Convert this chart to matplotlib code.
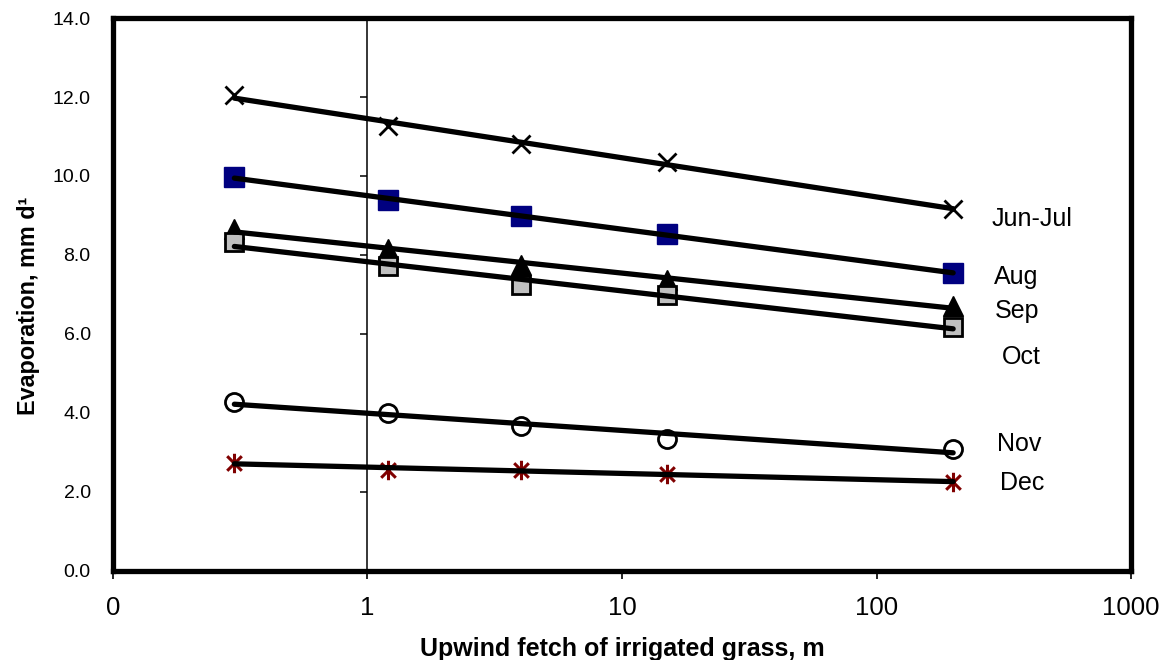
import numpy as np
import matplotlib
matplotlib.use('Agg')
import matplotlib.pyplot as plt
from matplotlib.path import Path
from matplotlib import markers

plt.rcParams['font.family'] = ['Liberation Sans', 'DejaVu Sans']

# upwind fetch (m) and evaporation (mm/d)
fetch = [0.3, 1.2, 4, 15, 200]
jun_jul = [12.05, 11.27, 10.82, 10.35, 9.17]
aug = [9.97, 9.39, 8.99, 8.53, 7.54]
sep = [8.66, 8.15, 7.75, 7.37, 6.71]
oct_ = [8.33, 7.72, 7.24, 6.99, 6.18]
nov = [4.28, 4.00, 3.67, 3.34, 3.09]
dec = [2.73, 2.56, 2.56, 2.46, 2.25]

series_names = ['Jun-Jul', 'Aug', 'Sep', 'Oct', 'Nov', 'Dec']
label_x = [408, 353, 357, 370, 365, 372]
label_y = [8.91, 7.44, 6.58, 5.42, 3.22, 2.23]

xtick_vals = [0.1, 1, 10, 100, 1000]
xtick_labels = ['0', '1', '10', '100', '1000']
ytick_vals = [0, 2, 4, 6, 8, 10, 12, 14]

# excel-like star: vertical bar plus an x
star = Path([(0, -1), (0, 1), (-0.75, -0.75), (0.75, 0.75), (-0.75, 0.75), (0.75, -0.75)],
            [Path.MOVETO, Path.LINETO, Path.MOVETO, Path.LINETO, Path.MOVETO, Path.LINETO])

styles = [
   dict(marker='x', ms=13, mfc='black', mec='black', mew=2),
   dict(marker='s', ms=14, mfc='#000080', mec='#000080', mew=1),
   dict(marker='^', ms=14, mfc='black', mec='black', mew=1),
   dict(marker='s', ms=13, mfc='#c0c0c0', mec='black', mew=2),
   dict(marker='o', ms=13, mfc='white', mec='black', mew=2),
   dict(marker=star, ms=14, mfc='#800000', mec='#800000', mew=2.2),
]

fig = plt.figure(figsize=(11.64, 6.6), dpi=100)
ax = fig.add_axes([0.097, 0.135, 0.8747, 0.8377])
ax.set_xscale('log')
ax.set_xlim(0.1, 1000)
ax.set_ylim(0, 14)

xs = np.array(fetch)
for name, ys, st in zip(series_names, [jun_jul, aug, sep, oct_, nov, dec], styles):
   ax.plot(xs, ys, linestyle='none', zorder=3, **st)
   # logarithmic trend line, drawn over the markers like excel does
   a, b = np.polyfit(np.log(xs), ys, 1)
   ax.plot([xs[0], xs[-1]], a*np.log([xs[0], xs[-1]]) + b, color='black', lw=3.8,
           solid_capstyle='round', zorder=4)

for name, lx, ly in zip(series_names, label_x, label_y):
   ax.text(lx, ly, name, ha='center', va='center', fontsize=18)

# the y axis crosses at x=1
ax.axvline(1, color='black', lw=1.1, zorder=2)
ax.plot([1]*6, ytick_vals[1:7], linestyle='none', marker=markers.TICKLEFT,
        ms=5, mew=1.1, color='black', zorder=2)

for s in ax.spines.values():
   s.set_linewidth(3.8)

ax.set_xticks(xtick_vals)
ax.set_xticklabels(xtick_labels)
ax.xaxis.set_minor_locator(plt.NullLocator())
ax.tick_params(axis='x', direction='out', length=6, width=1.2, labelsize=18.5, pad=12)
ax.set_yticks(ytick_vals)
ax.set_yticklabels(['%.1f' % v for v in ytick_vals])
ax.tick_params(axis='y', length=0, labelsize=14, pad=16)

ax.set_xlabel('Upwind fetch of irrigated grass, m', fontsize=18, fontweight='bold', labelpad=12)
ax.set_ylabel('Evaporation, mm d¹', fontsize=16.8, fontweight='bold', labelpad=9, y=0.479)

fig.savefig('out.png', dpi=100)
